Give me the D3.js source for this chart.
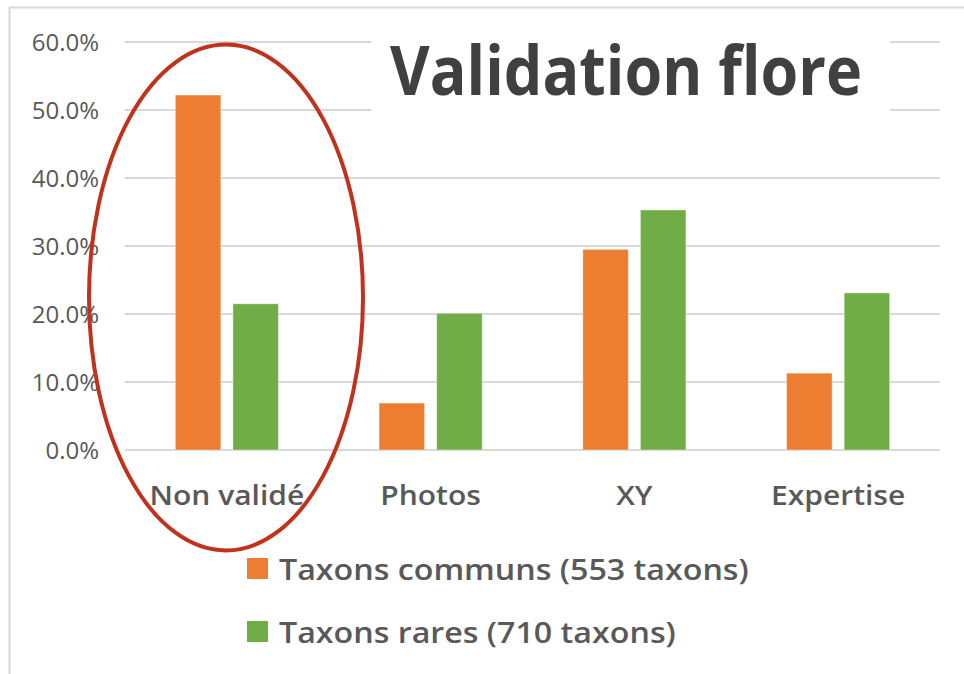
<!DOCTYPE html>
<meta charset="utf-8">
<title>Validation flore</title>
<style>
body { margin: 0; background: #fff; }
svg { display: block; font-family: "Open Sans", sans-serif; }
.tick-label { fill: #595959; font-size: 24px; }
.cat-label { fill: #595959; font-size: 27px; font-weight: 600; }
.legend-label { fill: #595959; font-size: 28px; font-weight: 600; }
.title { fill: #404040; font-size: 68px; font-weight: 700; }
</style>
<svg width="964" height="674"></svg>
<script src="https://d3js.org/d3.v7.min.js"></script>
<script>

// data
var categories = ["Non validé", "Photos", "XY", "Expertise"];
var seriesNames = ["Taxons communs (553 taxons)", "Taxons rares (710 taxons)"];
var communs = [52.2, 6.9, 29.5, 11.3];
var rares = [21.5, 20.1, 35.3, 23.1];
var yTicks = [0, 10, 20, 30, 40, 50, 60];

var colors = ["#ED7D31", "#70AD47"];
var values = [communs, rares];

var svg = d3.select("svg"),
    plotLeft = 125, plotRight = 940, plotTop = 42, plotBottom = 450;

// squeeze/stretch text to the width it has in the source
function fit(sel, k) {
  sel.each(function() {
    var w = this.getComputedTextLength();
    d3.select(this).attr("textLength", w * k).attr("lengthAdjust", "spacingAndGlyphs");
  });
}

// frame
svg.append("line").attr("x1", 9.5).attr("x2", 964).attr("y1", 7.5).attr("y2", 7.5)
    .style("stroke", "#d9d9d9").style("stroke-width", 2);
svg.append("line").attr("x1", 9.5).attr("x2", 9.5).attr("y1", 7).attr("y2", 674)
    .style("stroke", "#d9d9d9").style("stroke-width", 2);

var y = d3.scaleLinear().domain([0, 60]).range([plotBottom, plotTop]);

var x0 = d3.scaleBand().domain(categories).range([plotLeft, plotRight])
    .paddingInner(0.494).paddingOuter(0.247);

var x1 = d3.scaleBand().domain([0, 1]).range([0, x0.bandwidth()])
    .paddingInner(0.21).paddingOuter(0);

// gridlines
svg.append("g").selectAll("line")
  .data(yTicks)
  .enter().append("line")
    .attr("x1", plotLeft).attr("x2", plotRight)
    .attr("y1", function(d) { return y(d); })
    .attr("y2", function(d) { return y(d); })
    .style("stroke", "#d9d9d9")
    .style("stroke-width", 2);

// y labels
var yAxis = svg.append("g").attr("transform", "translate(99,0)")
    .call(d3.axisLeft(y).tickValues(yTicks).tickSize(0).tickPadding(0)
      .tickFormat(function(d) { return d.toFixed(1) + "%"; }));
yAxis.select(".domain").remove();
yAxis.selectAll("text").attr("class", "tick-label").attr("fill", null)
    .style("font-family", "Open Sans").attr("dy", "0.35em");

// bars
var groups = svg.append("g").selectAll("g")
  .data(categories)
  .enter().append("g")
    .attr("transform", function(d) { return "translate(" + x0(d) + ",0)"; });

groups.selectAll("rect")
  .data(function(d, i) { return [0, 1].map(function(s) { return {s: s, v: values[s][i]}; }); })
  .enter().append("rect")
    .attr("x", function(d) { return x1(d.s); })
    .attr("width", x1.bandwidth())
    .attr("y", function(d) { return y(d.v); })
    .attr("height", function(d) { return y(0) - y(d.v); })
    .style("fill", function(d) { return colors[d.s]; })
    .style("stroke", "#fff")
    .style("stroke-opacity", 0.4)
    .style("stroke-width", 1);

// category labels
svg.append("g").selectAll("text")
  .data(categories)
  .enter().append("text")
    .attr("class", "cat-label")
    .attr("x", function(d) { return x0(d) + x0.bandwidth() / 2; })
    .attr("y", 505)
    .attr("text-anchor", "middle")
    .text(function(d) { return d; })
    .call(fit, 1.11);

// title box + title
svg.append("rect").attr("x", 371).attr("y", 30).attr("width", 519).attr("height", 90)
    .style("fill", "#fff");
svg.append("text").attr("class", "title")
    .attr("x", 390).attr("y", 95)
    .attr("textLength", 472).attr("lengthAdjust", "spacingAndGlyphs")
    .text("Validation flore");

// ellipse
svg.append("ellipse")
    .attr("cx", 226).attr("cy", 297.5).attr("rx", 137).attr("ry", 253)
    .style("fill", "none")
    .style("stroke", "#C0321C")
    .style("stroke-width", 4);

// legend
var legend = svg.append("g").selectAll("g")
  .data(seriesNames)
  .enter().append("g")
    .attr("transform", function(d, i) { return "translate(247," + (558 + i * 63) + ")"; });
legend.append("rect")
    .attr("width", 21).attr("height", 21)
    .style("fill", function(d, i) { return colors[i]; });
legend.append("text")
    .attr("class", "legend-label")
    .attr("x", 32).attr("y", 22)
    .text(function(d) { return d; })
    .call(fit, 1.15);

</script>
